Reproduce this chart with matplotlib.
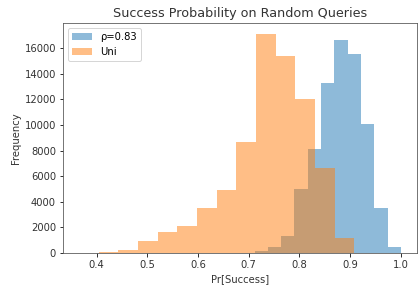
import numpy as np
import matplotlib
matplotlib.use("Agg")
import matplotlib.pyplot as plt

# -----------------------------
# Data
# -----------------------------
rho_edges = [0.6852, 0.7115, 0.7377, 0.7639, 0.7902, 0.8164, 0.8426,
             0.8689, 0.8951, 0.9213, 0.9475, 0.9738, 1.0]
rho_counts = [30, 150, 500, 1330, 4970, 8120, 13250, 16600, 15550,
              10050, 3520, 480]

uni_edges = [0.3656, 0.4043, 0.4431, 0.4819, 0.5206, 0.5594, 0.5981,
             0.6369, 0.6756, 0.7144, 0.7532, 0.7919, 0.8307, 0.8694, 0.9082]
uni_counts = [5, 50, 230, 960, 1640, 2130, 3540, 4940, 8650, 17100,
              15390, 12000, 6610, 1150]

# -----------------------------
# Plotting
# -----------------------------
fig = plt.figure(figsize=(418 / 72, 287 / 72), dpi=72)
ax = fig.add_axes([63 / 418, 1 - 253 / 287, 354 / 418, 230 / 287])

ax.hist(rho_edges[:-1], bins=rho_edges, weights=rho_counts, alpha=0.5,
        label='ρ=0.83')
ax.hist(uni_edges[:-1], bins=uni_edges, weights=uni_counts, alpha=0.5,
        label='Uni')

ax.set_title('Success Probability on Random Queries', fontsize=12.8,
             color='#333333')
ax.set_xlabel('Pr[Success]', color='#333333')
ax.set_ylabel('Frequency', color='#333333')
ax.set_yticks(np.arange(0, 16001, 2000))
ax.tick_params(labelcolor='#333333')
for s in ax.spines.values():
    s.set_edgecolor('#555555')
ax.legend(loc='upper left')

fig.savefig('out.png', dpi=72)
